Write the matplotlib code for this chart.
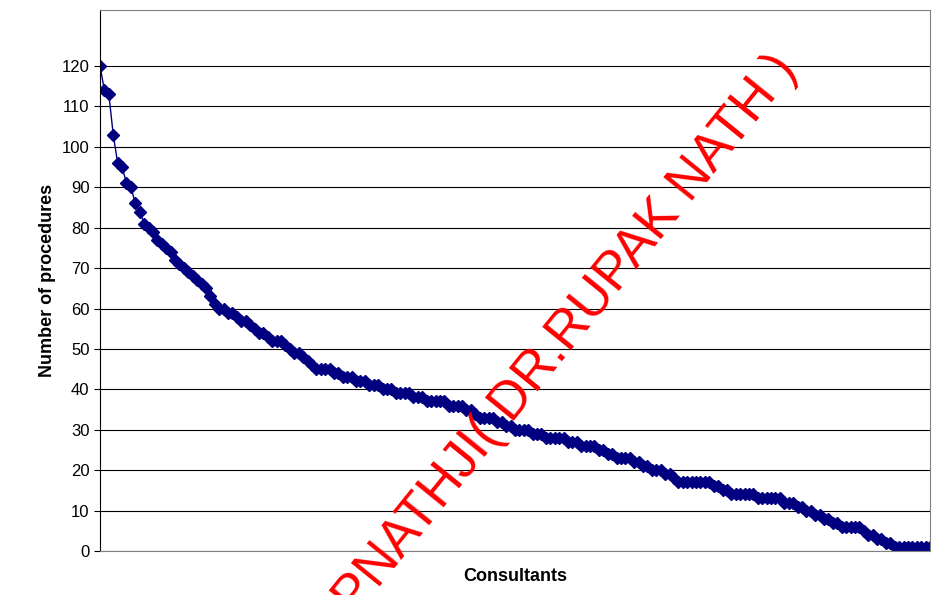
import matplotlib
matplotlib.use("Agg")
import matplotlib.pyplot as plt

plt.rcParams['font.family'] = ['Liberation Sans', 'DejaVu Sans']

procedures = [120, 114, 113, 103, 96, 95, 91, 90, 86, 84, 81, 80, 79, 77, 76, 75, 74, 72, 71,
              70, 69, 68, 67, 66, 65, 63, 61, 60, 60, 59, 59, 58, 57, 57, 56,
              55, 54, 54, 53, 52, 52, 52, 51, 50, 49, 49, 48, 47,
              46, 45, 45, 45, 45, 44, 44, 43, 43, 43, 42, 42, 42, 41, 41, 41, 40, 40,
              40, 39, 39, 39, 39, 38, 38, 38, 37, 37, 37, 37, 37, 36, 36, 36, 36, 35,
              35, 34, 33, 33, 33, 33, 32, 32, 31, 31, 30, 30, 30, 30, 29, 29, 29, 28, 28, 28, 28,
              28, 27, 27, 27, 26, 26, 26, 26, 25, 25, 24, 24, 23, 23, 23, 23, 22, 22, 21, 21, 20,
              20, 20, 19, 19, 18, 17, 17, 17, 17, 17, 17, 17, 17, 16, 16, 15, 15, 14, 14, 14, 14, 14, 14,
              13, 13, 13, 13, 13, 13, 12, 12, 12, 11, 11, 10, 10, 9, 9, 8, 8, 7, 7, 6, 6,
              6, 6, 6, 5, 4, 4, 3, 3, 2, 2, 1, 1, 1, 1, 1, 1, 1, 1, 1]
consultants = list(range(1, len(procedures) + 1))
yticks = list(range(0, 121, 10))

fig = plt.figure(figsize=(9.34, 5.95), dpi=100)
ax = fig.add_axes([100/934, 1 - 551/595, 830/934, (551 - 10)/595])
ax.plot(consultants, procedures, color='#000080', lw=1, marker='D', ms=6)
ax.set_xlim(1, len(procedures))
ax.set_ylim(0, 120 * 541 / 485)
ax.set_yticks(yticks)
ax.set_xticks([])
ax.yaxis.grid(True, color='black', lw=0.8)
ax.set_axisbelow(True)
for s in ['top', 'right', 'bottom']:
    ax.spines[s].set_color('#808080')
ax.tick_params(axis='y', labelsize=12, length=4, direction='out')
ax.set_ylabel('Number of procedures', fontsize=13, fontweight='bold')
ax.set_xlabel('Consultants', fontsize=13, fontweight='bold', labelpad=12)

fig.text(768/934, 1 - 45/595, 'RUPNATHJI( DR.RUPAK NATH )', color='red', fontsize=38,
         rotation=51, ha='right', va='top', rotation_mode='anchor')

fig.savefig('out.png', dpi=100)
